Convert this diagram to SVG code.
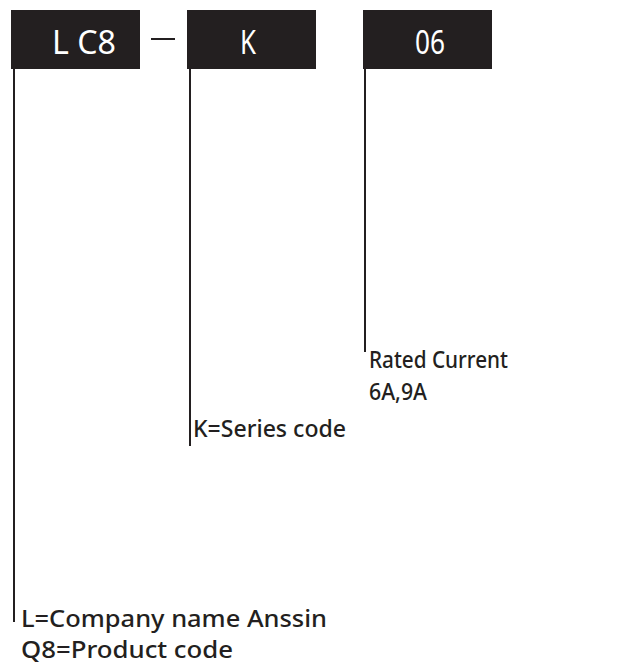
<svg xmlns="http://www.w3.org/2000/svg" width="633" height="666" viewBox="0 0 633 666">
<style>
.box{fill:#231f20}
.bt{font-family:"Noto Sans",sans-serif;font-size:32px;fill:#fff}
.lt{font-family:"Noto Sans",sans-serif;font-size:23px;font-weight:500;fill:#231f20}
.ln{stroke:#231f20;stroke-width:2;fill:none}
</style>
<rect width="633" height="666" fill="#fff"/>
<g id="node-lc8"><rect class="box" x="11" y="10" width="129" height="59"/><text class="bt" x="52" y="54" textLength="64" lengthAdjust="spacingAndGlyphs">L C8</text></g>
<g id="node-dash"><line class="ln" x1="151" y1="39" x2="175" y2="39"/></g>
<g id="node-k"><rect class="box" x="187" y="10" width="129" height="59"/><text class="bt" x="240" y="54" textLength="16" lengthAdjust="spacingAndGlyphs">K</text></g>
<g id="node-06"><rect class="box" x="363" y="10" width="129" height="59"/><text class="bt" x="415" y="54" textLength="30" lengthAdjust="spacingAndGlyphs">06</text></g>
<g id="connectors">
<line class="ln" x1="14" y1="69" x2="14" y2="622"/>
<line class="ln" x1="190" y1="69" x2="190" y2="446"/>
<line class="ln" x1="365" y1="69" x2="365" y2="352"/>
</g>
<g id="label-rated"><text class="lt" x="369" y="368" textLength="139" lengthAdjust="spacingAndGlyphs">Rated Current</text><text class="lt" x="369" y="400" textLength="58" lengthAdjust="spacingAndGlyphs">6A,9A</text></g>
<g id="label-series"><text class="lt" x="193" y="437" textLength="153" lengthAdjust="spacingAndGlyphs">K=Series code</text></g>
<g id="label-company"><text class="lt" x="21" y="627" textLength="306" lengthAdjust="spacingAndGlyphs">L=Company name Anssin</text><text class="lt" x="21" y="658" textLength="212" lengthAdjust="spacingAndGlyphs">Q8=Product code</text></g>
</svg>
